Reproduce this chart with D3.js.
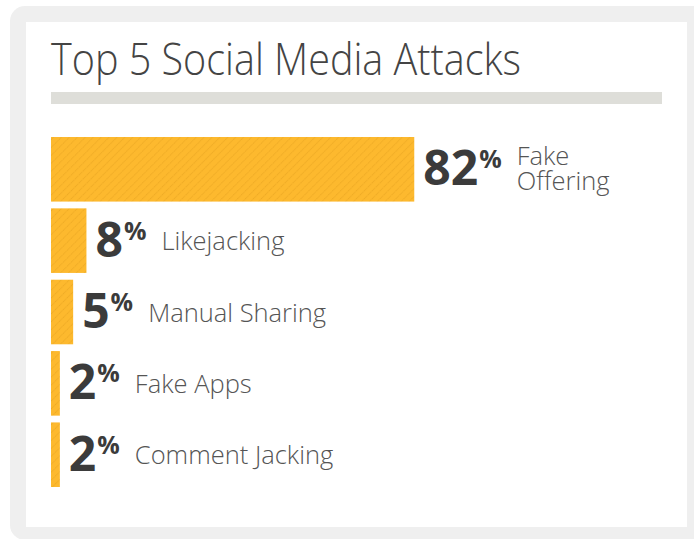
<!DOCTYPE html>
<html>
<head>
<meta charset="utf-8">
<script src="https://cdn.jsdelivr.net/npm/d3@7"></script>
<style>
  html, body { margin: 0; padding: 0; background: #ffffff; }
  svg { display: block; }
</style>
</head>
<body>
<script>
// Chart data
const title = "Top 5 Social Media Attacks";
const categories = ["Fake Offering", "Likejacking", "Manual Sharing", "Fake Apps", "Comment Jacking"];
const values = [82, 8, 5, 2, 2];
const valueSuffix = "%";

const W = 694, H = 539;
const svg = d3.select("body").append("svg").attr("width", W).attr("height", H);

// Card frame
svg.append("rect").attr("x", 10).attr("y", 6).attr("width", 720).attr("height", 534)
  .attr("rx", 15).attr("fill", "#efefef");
svg.append("rect").attr("x", 26).attr("y", 22).attr("width", 661).attr("height", 505)
  .attr("fill", "#ffffff");

// Diagonal stripe fill for bars
const defs = svg.append("defs");
const pat = defs.append("pattern").attr("id", "stripes")
  .attr("patternUnits", "userSpaceOnUse").attr("width", 5.6).attr("height", 5.6)
  .attr("patternTransform", "rotate(45)");
pat.append("rect").attr("width", 5.6).attr("height", 5.6).attr("fill", "#fdb92e");
pat.append("line").attr("x1", 0.5).attr("y1", 0).attr("x2", 0.5).attr("y2", 5.6)
  .attr("stroke", "#eeaa24").attr("stroke-width", 1).attr("stroke-dasharray", "1.2 0.8");

// Title and rule
svg.append("text").attr("x", 51).attr("y", 75)
  .attr("font-family", "'Open Sans', sans-serif").attr("font-weight", 300)
  .attr("font-size", 44).attr("fill", "#444444")
  .attr("textLength", 470).attr("lengthAdjust", "spacingAndGlyphs")
  .text(title);
svg.append("rect").attr("x", 51).attr("y", 92).attr("width", 611).attr("height", 12)
  .attr("fill", "#deded9");

// Scales
const x = d3.scaleLinear().domain([0, 100]).range([51, 51 + 443]);
const y = d3.scaleBand().domain(categories).range([137, 487]).paddingInner(0.095).paddingOuter(0);

const rows = svg.append("g").selectAll("g").data(categories).join("g");

rows.append("rect")
  .attr("x", x(0))
  .attr("y", d => y(d))
  .attr("width", (d, i) => x(values[i]) - x(0))
  .attr("height", y.bandwidth())
  .attr("fill", "url(#stripes)");

const rightLimit = 662;

rows.each(function(d, i) {
  const g = d3.select(this);
  const cy = y(d) + y.bandwidth() / 2;
  const vx = x(values[i]) + 9;
  const vt = g.append("text")
    .attr("x", vx).attr("y", cy + 16)
    .attr("font-family", "'Open Sans', sans-serif").attr("font-weight", 700)
    .attr("font-size", 48).attr("fill", "#3b3b3b")
    .text(values[i]);
  const vw = vt.node().getComputedTextLength();
  const st = g.append("text")
    .attr("x", vx + vw + 1).attr("y", cy - 1)
    .attr("font-family", "'Open Sans', sans-serif").attr("font-weight", 700)
    .attr("font-size", 25).attr("fill", "#3b3b3b")
    .text(valueSuffix);
  const sw = st.node().getComputedTextLength();
  const lx = vx + vw + 1 + sw + 15;

  // Category label, wrapped to the space left of the rule's end
  const lbl = g.append("text")
    .attr("x", lx)
    .attr("font-family", "'Open Sans', sans-serif").attr("font-weight", 300)
    .attr("font-size", 25.5).attr("fill", "#555555");
  const words = d.split(" ");
  const lines = [];
  let cur = [];
  const probe = lbl.append("tspan");
  words.forEach(w => {
    const test = cur.concat(w).join(" ");
    probe.text(test);
    if (cur.length && lx + probe.node().getComputedTextLength() > rightLimit) {
      lines.push(cur.join(" "));
      cur = [w];
    } else {
      cur.push(w);
    }
  });
  lines.push(cur.join(" "));
  probe.remove();
  const lh = 25;
  const y0 = cy + 9.5 - (lines.length - 1) * lh / 2 - (lines.length > 1 ? 1.5 : 0);
  lines.forEach((t, k) => {
    lbl.append("tspan").attr("x", lx).attr("y", y0 + k * lh).text(t);
  });
});
</script>
</body>
</html>
